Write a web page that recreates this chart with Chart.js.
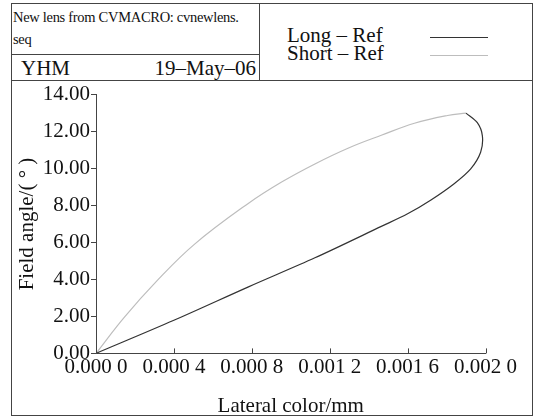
<!DOCTYPE html>
<html>
<head>
<meta charset="utf-8">
<script src="https://cdn.jsdelivr.net/npm/chart.js@4.4.1/dist/chart.umd.min.js"></script>
<style>
  body { margin: 0; background: #fff; font-family: "Liberation Serif", serif; color: #111; }
  #page { position: relative; width: 539px; height: 419px; overflow: hidden; }
  #frame { position: absolute; left: 11px; top: 3px; width: 520px; height: 411px; border: 1.5px solid #444; }
  #head { position: absolute; left: 11px; top: 3px; width: 522px; height: 77px; border-bottom: 1.5px solid #444; }
  #hleft { position: absolute; left: 0; top: 0; width: 248px; height: 77px; border-right: 1.5px solid #444; }
  #hnote { position: absolute; left: 2px; top: 3px; width: 246px; font-size: 14.5px; line-height: 22px; letter-spacing: -0.3px; }
  #hrow { position: absolute; left: 0; top: 51px; width: 248px; height: 26px; border-top: 1.5px solid #444; font-size: 21px; }
  #hrow span { position: absolute; top: 1px; }
  .lg { position: absolute; font-size: 21px; }
  .ls { position: absolute; height: 1.2px; width: 58px; }
  #wrap { position: absolute; left: 12px; top: 81px; width: 520px; height: 338px; }
</style>
</head>
<body>
<div id="page">
  <div id="frame"></div>
  <div id="head">
    <div id="hleft">
      <div id="hnote">New lens from CVMACRO: cvnewlens.<br>seq</div>
      <div id="hrow"><span style="left:10px">YHM</span><span style="right:3px">19–May–06</span></div>
    </div>
  </div>
  <div id="legend"></div>
  <div id="wrap"><canvas id="c" width="520" height="338"></canvas></div>
</div>
<script>
'use strict';

// data
var seriesNames = ['Long – Ref', 'Short – Ref'];
var longX = [0, 0.0004, 0.000783, 0.001124, 0.001465, 0.0016, 0.00172, 0.001839, 0.001924, 0.001975, 0.001984, 0.001958, 0.0019];
var longY = [0, 1.79, 3.6, 5.17, 6.87, 7.55, 8.3, 9.18, 9.98, 10.88, 11.77, 12.48, 13.0];
var shortX = [0, 0.000145, 0.000315, 0.000505, 0.00078, 0.000953, 0.001124, 0.001294, 0.001465, 0.001635, 0.001805, 0.0019];
var shortY = [0, 1.95, 3.95, 5.9, 8.1, 9.27, 10.25, 11.1, 11.8, 12.45, 12.87, 13.0];
var xTickLabels = ['0.000 0', '0.000 4', '0.000 8', '0.001 2', '0.001 6', '0.002 0'];
var yTickLabels = ['0.00', '2.00', '4.00', '6.00', '8.00', '10.00', '12.00', '14.00'];

var colors = ['#333333', '#bdbdbd'];
var font = { family: '"Liberation Serif", serif', size: 21 };

function pts(xs, ys) {
  var out = [];
  for (var i = 0; i < xs.length; i++) out.push({ x: xs[i], y: ys[i] });
  return out;
}

// legend box in the header
var legend = document.querySelector('#legend');
for (var s = 0; s < seriesNames.length; s++) {
  legend.innerHTML += '<div class="lg" style="left:287px;top:' + (23 + s * 18) + 'px">' + seriesNames[s] + '</div>' +
    '<div class="ls" style="left:430px;top:' + (37 + s * 18) + 'px;background:' + colors[s] + '"></div>';
}

// x ticks point up into the plot
var innerTicks = {
  id: 'innerTicks',
  afterDraw: function (chart) {
    var ctx = chart.ctx, xs = chart.scales.x, bottom = chart.chartArea.bottom;
    ctx.save();
    ctx.strokeStyle = '#444';
    ctx.lineWidth = 1;
    for (var i = 0; i < xs.ticks.length; i++) {
      var px = Math.round(xs.getPixelForValue(xs.ticks[i].value)) + 0.5;
      ctx.beginPath();
      ctx.moveTo(px, bottom);
      ctx.lineTo(px, bottom - 5);
      ctx.stroke();
    }
    ctx.restore();
  }
};

new Chart(document.querySelector('#c'), {
  type: 'scatter',
  data: {
    datasets: [
      { label: seriesNames[0], data: pts(longX, longY), showLine: true, borderColor: colors[0], borderWidth: 1.2, pointRadius: 0, tension: 0.3 },
      { label: seriesNames[1], data: pts(shortX, shortY), showLine: true, borderColor: colors[1], borderWidth: 1.2, pointRadius: 0, tension: 0.4 }
    ]
  },
  options: {
    responsive: false,
    animation: false,
    layout: { padding: { top: 10.6, right: 46.5, left: 0, bottom: 0 } },
    plugins: { legend: { display: false }, tooltip: { enabled: false } },
    scales: {
      x: {
        type: 'linear', min: 0, max: 0.002,
        afterFit: function (scale) { scale.height = 65.6; },
        afterBuildTicks: function (scale) {
          scale.ticks = xTickLabels.map(function (l, i) { return { value: i * 0.0004 }; });
        },
        ticks: { color: '#111', font: font, padding: 1, maxRotation: 0, autoSkip: false,
          callback: function (v, i) { return xTickLabels[i]; } },
        grid: { drawOnChartArea: false, drawTicks: false },
        border: { color: '#444', width: 1 },
        title: { display: true, text: 'Lateral color/mm', color: '#111', font: font, padding: { top: 4, bottom: 0 } }
      },
      y: {
        type: 'linear', min: 0, max: 14,
        afterFit: function (scale) { scale.width = 84; },
        afterBuildTicks: function (scale) {
          scale.ticks = yTickLabels.map(function (l, i) { return { value: i * 2 }; });
        },
        ticks: { color: '#111', font: font, padding: 1,
          callback: function (v, i) { return yTickLabels[i]; } },
        grid: { drawOnChartArea: false, drawTicks: true, tickLength: 5, tickColor: '#444' },
        border: { color: '#444', width: 1 },
        title: { display: true, text: 'Field angle/( ° )', color: '#111', font: font, padding: { top: 3, bottom: 0 } }
      }
    }
  },
  plugins: [innerTicks]
});
</script>
</body>
</html>
